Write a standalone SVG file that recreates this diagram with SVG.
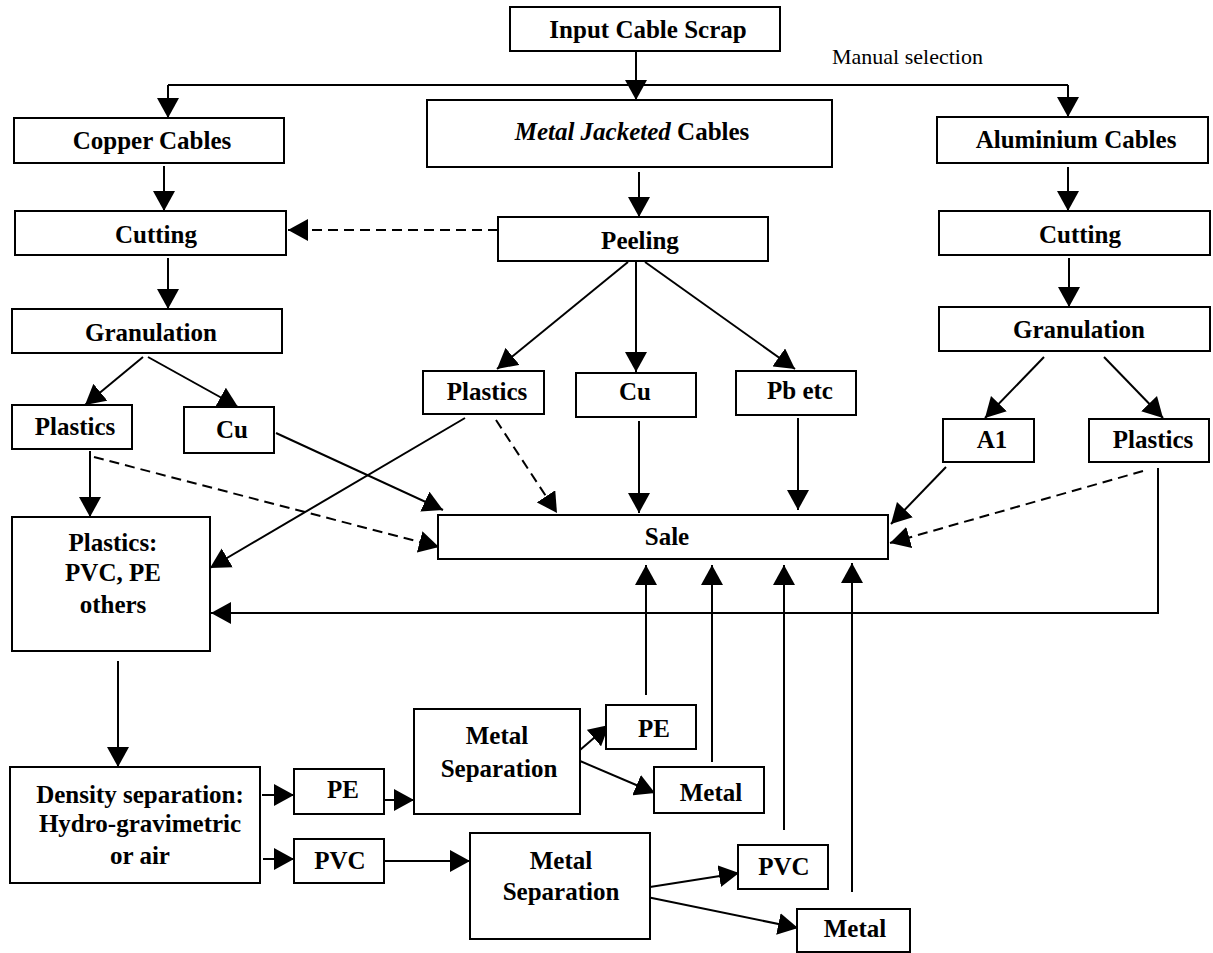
<svg xmlns="http://www.w3.org/2000/svg" width="1213" height="953" viewBox="0 0 1213 953">
<style>
  .box { fill: #ffffff; stroke: #000000; stroke-width: 2; }
  .t { font-family: "Liberation Serif", "Times New Roman", serif; font-weight: bold; font-size: 25px; fill: #000000; text-anchor: middle; }
  .note { font-family: "Liberation Serif", "Times New Roman", serif; font-size: 22px; fill: #000000; }
  .ln { fill: none; stroke: #000000; stroke-width: 2; }
  .arr { marker-end: url(#ah); }
  .dash { stroke-dasharray: 10 6; }
</style>
<defs>
  <marker id="ah" markerUnits="userSpaceOnUse" markerWidth="22" markerHeight="22" refX="20" refY="11" orient="auto">
    <path d="M0,0 L20,11 L0,22 z" fill="#000000"/>
  </marker>
</defs>
<rect x="0" y="0" width="1213" height="953" fill="#ffffff"/>

<g id="connectors">
  <path class="ln arr" d="M636,51 V100"/>
  <path class="ln" d="M168,85 H1068"/>
  <path class="ln arr" d="M168,85 V118"/>
  <path class="ln arr" d="M1068,85 V117"/>
  <path class="ln arr" d="M164,166 V211"/>
  <path class="ln arr dash" d="M498,230 H288"/>
  <path class="ln arr" d="M639,172 V217"/>
  <path class="ln arr" d="M628,262 L497,369"/>
  <path class="ln arr" d="M636,262 V372"/>
  <path class="ln arr" d="M645,262 L795,369"/>
  <path class="ln arr" d="M1068,167 V211"/>
  <path class="ln arr" d="M1069,258 V307"/>
  <path class="ln arr" d="M1044,357 L985,418"/>
  <path class="ln arr" d="M1104,357 L1163,418"/>
  <path class="ln arr" d="M168,258 V309"/>
  <path class="ln arr" d="M143,357 L85,405"/>
  <path class="ln arr" d="M148,357 L238,407"/>
  <path class="ln arr" d="M90,451 V517"/>
  <path class="ln arr dash" d="M94,457 L439,547"/>
  <path class="ln arr" d="M276,433 L443,510"/>
  <path class="ln arr" d="M465,418 L210,568"/>
  <path class="ln arr dash" d="M496,420 L557,513"/>
  <path class="ln arr" d="M639,421 V513"/>
  <path class="ln arr" d="M798,418 V510"/>
  <path class="ln arr" d="M946,467 L891,524"/>
  <path class="ln arr dash" d="M1143,471 L890,543"/>
  <path class="ln arr" d="M1158,468 V613 H211"/>
  <path class="ln arr" d="M118,661 V767"/>
  <path class="ln arr" d="M262,795 H294"/>
  <path class="ln arr" d="M385,800 H414"/>
  <path class="ln arr" d="M263,859 H294"/>
  <path class="ln arr" d="M382,861 H470"/>
  <path class="ln arr" d="M580,750 L609,725"/>
  <path class="ln arr" d="M580,761 L655,793"/>
  <path class="ln arr" d="M650,887 L739,873"/>
  <path class="ln arr" d="M647,897 L798,928"/>
  <path class="ln arr" d="M646,695 V565"/>
  <path class="ln arr" d="M712,762 V565"/>
  <path class="ln arr" d="M784,830 V565"/>
  <path class="ln arr" d="M852,892 V563"/>
</g>

<text class="note" x="832" y="64">Manual selection</text>

<g id="input"><rect class="box" x="510" y="7" width="270" height="44"/><text class="t" x="648" y="38">Input Cable Scrap</text></g>
<g id="copper-cables"><rect class="box" x="14" y="118" width="270" height="45"/><text class="t" x="152" y="149">Copper Cables</text></g>
<g id="metal-jacketed"><rect class="box" x="427" y="100" width="405" height="67"/><text class="t" x="632" y="140"><tspan font-style="italic">Metal Jacketed</tspan> Cables</text></g>
<g id="aluminium-cables"><rect class="box" x="937" y="117" width="271" height="46"/><text class="t" x="1076" y="148">Aluminium Cables</text></g>
<g id="cutting-left"><rect class="box" x="15" y="211" width="271" height="44"/><text class="t" x="156" y="243">Cutting</text></g>
<g id="peeling"><rect class="box" x="498" y="217" width="270" height="44"/><text class="t" x="640" y="249">Peeling</text></g>
<g id="cutting-right"><rect class="box" x="939" y="211" width="271" height="44"/><text class="t" x="1080" y="243">Cutting</text></g>
<g id="granulation-left"><rect class="box" x="12" y="309" width="270" height="44"/><text class="t" x="151" y="341">Granulation</text></g>
<g id="granulation-right"><rect class="box" x="939" y="307" width="271" height="44"/><text class="t" x="1079" y="338">Granulation</text></g>
<g id="plastics-left"><rect class="box" x="12" y="405" width="120" height="44"/><text class="t" x="75" y="435">Plastics</text></g>
<g id="cu-left"><rect class="box" x="184" y="407" width="90" height="46"/><text class="t" x="232" y="438">Cu</text></g>
<g id="plastics-mid"><rect class="box" x="423" y="371" width="121" height="43"/><text class="t" x="487" y="400">Plastics</text></g>
<g id="cu-mid"><rect class="box" x="576" y="373" width="120" height="44"/><text class="t" x="635" y="400">Cu</text></g>
<g id="pb-etc"><rect class="box" x="736" y="371" width="120" height="44"/><text class="t" x="800" y="399">Pb etc</text></g>
<g id="a1"><rect class="box" x="943" y="419" width="91" height="43"/><text class="t" x="992" y="448">A1</text></g>
<g id="plastics-right"><rect class="box" x="1089" y="419" width="120" height="43"/><text class="t" x="1153" y="448">Plastics</text></g>
<g id="sale"><rect class="box" x="438" y="515" width="450" height="44"/><text class="t" x="667" y="545">Sale</text></g>
<g id="plastics-pvc-pe"><rect class="box" x="12" y="517" width="198" height="134"/><text class="t" x="113" y="551">Plastics:</text><text class="t" x="113" y="581">PVC, PE</text><text class="t" x="113" y="613">others</text></g>
<g id="density"><rect class="box" x="10" y="767" width="250" height="116"/><text class="t" x="140" y="803">Density separation:</text><text class="t" x="140" y="832">Hydro-gravimetric</text><text class="t" x="140" y="864">or air</text></g>
<g id="pe1"><rect class="box" x="294" y="769" width="90" height="45"/><text class="t" x="343" y="798">PE</text></g>
<g id="pvc1"><rect class="box" x="294" y="839" width="90" height="44"/><text class="t" x="340" y="869">PVC</text></g>
<g id="metal-sep-1"><rect class="box" x="414" y="709" width="166" height="105"/><text class="t" x="497" y="744">Metal</text><text class="t" x="499" y="777">Separation</text></g>
<g id="metal-sep-2"><rect class="box" x="470" y="833" width="180" height="106"/><text class="t" x="561" y="869">Metal</text><text class="t" x="561" y="900">Separation</text></g>
<g id="pe2"><rect class="box" x="606" y="705" width="90" height="44"/><text class="t" x="654" y="737">PE</text></g>
<g id="metal1"><rect class="box" x="654" y="767" width="110" height="46"/><text class="t" x="711" y="801">Metal</text></g>
<g id="pvc2"><rect class="box" x="738" y="845" width="90" height="44"/><text class="t" x="784" y="875">PVC</text></g>
<g id="metal2"><rect class="box" x="797" y="909" width="113" height="43"/><text class="t" x="855" y="937">Metal</text></g>
</svg>
